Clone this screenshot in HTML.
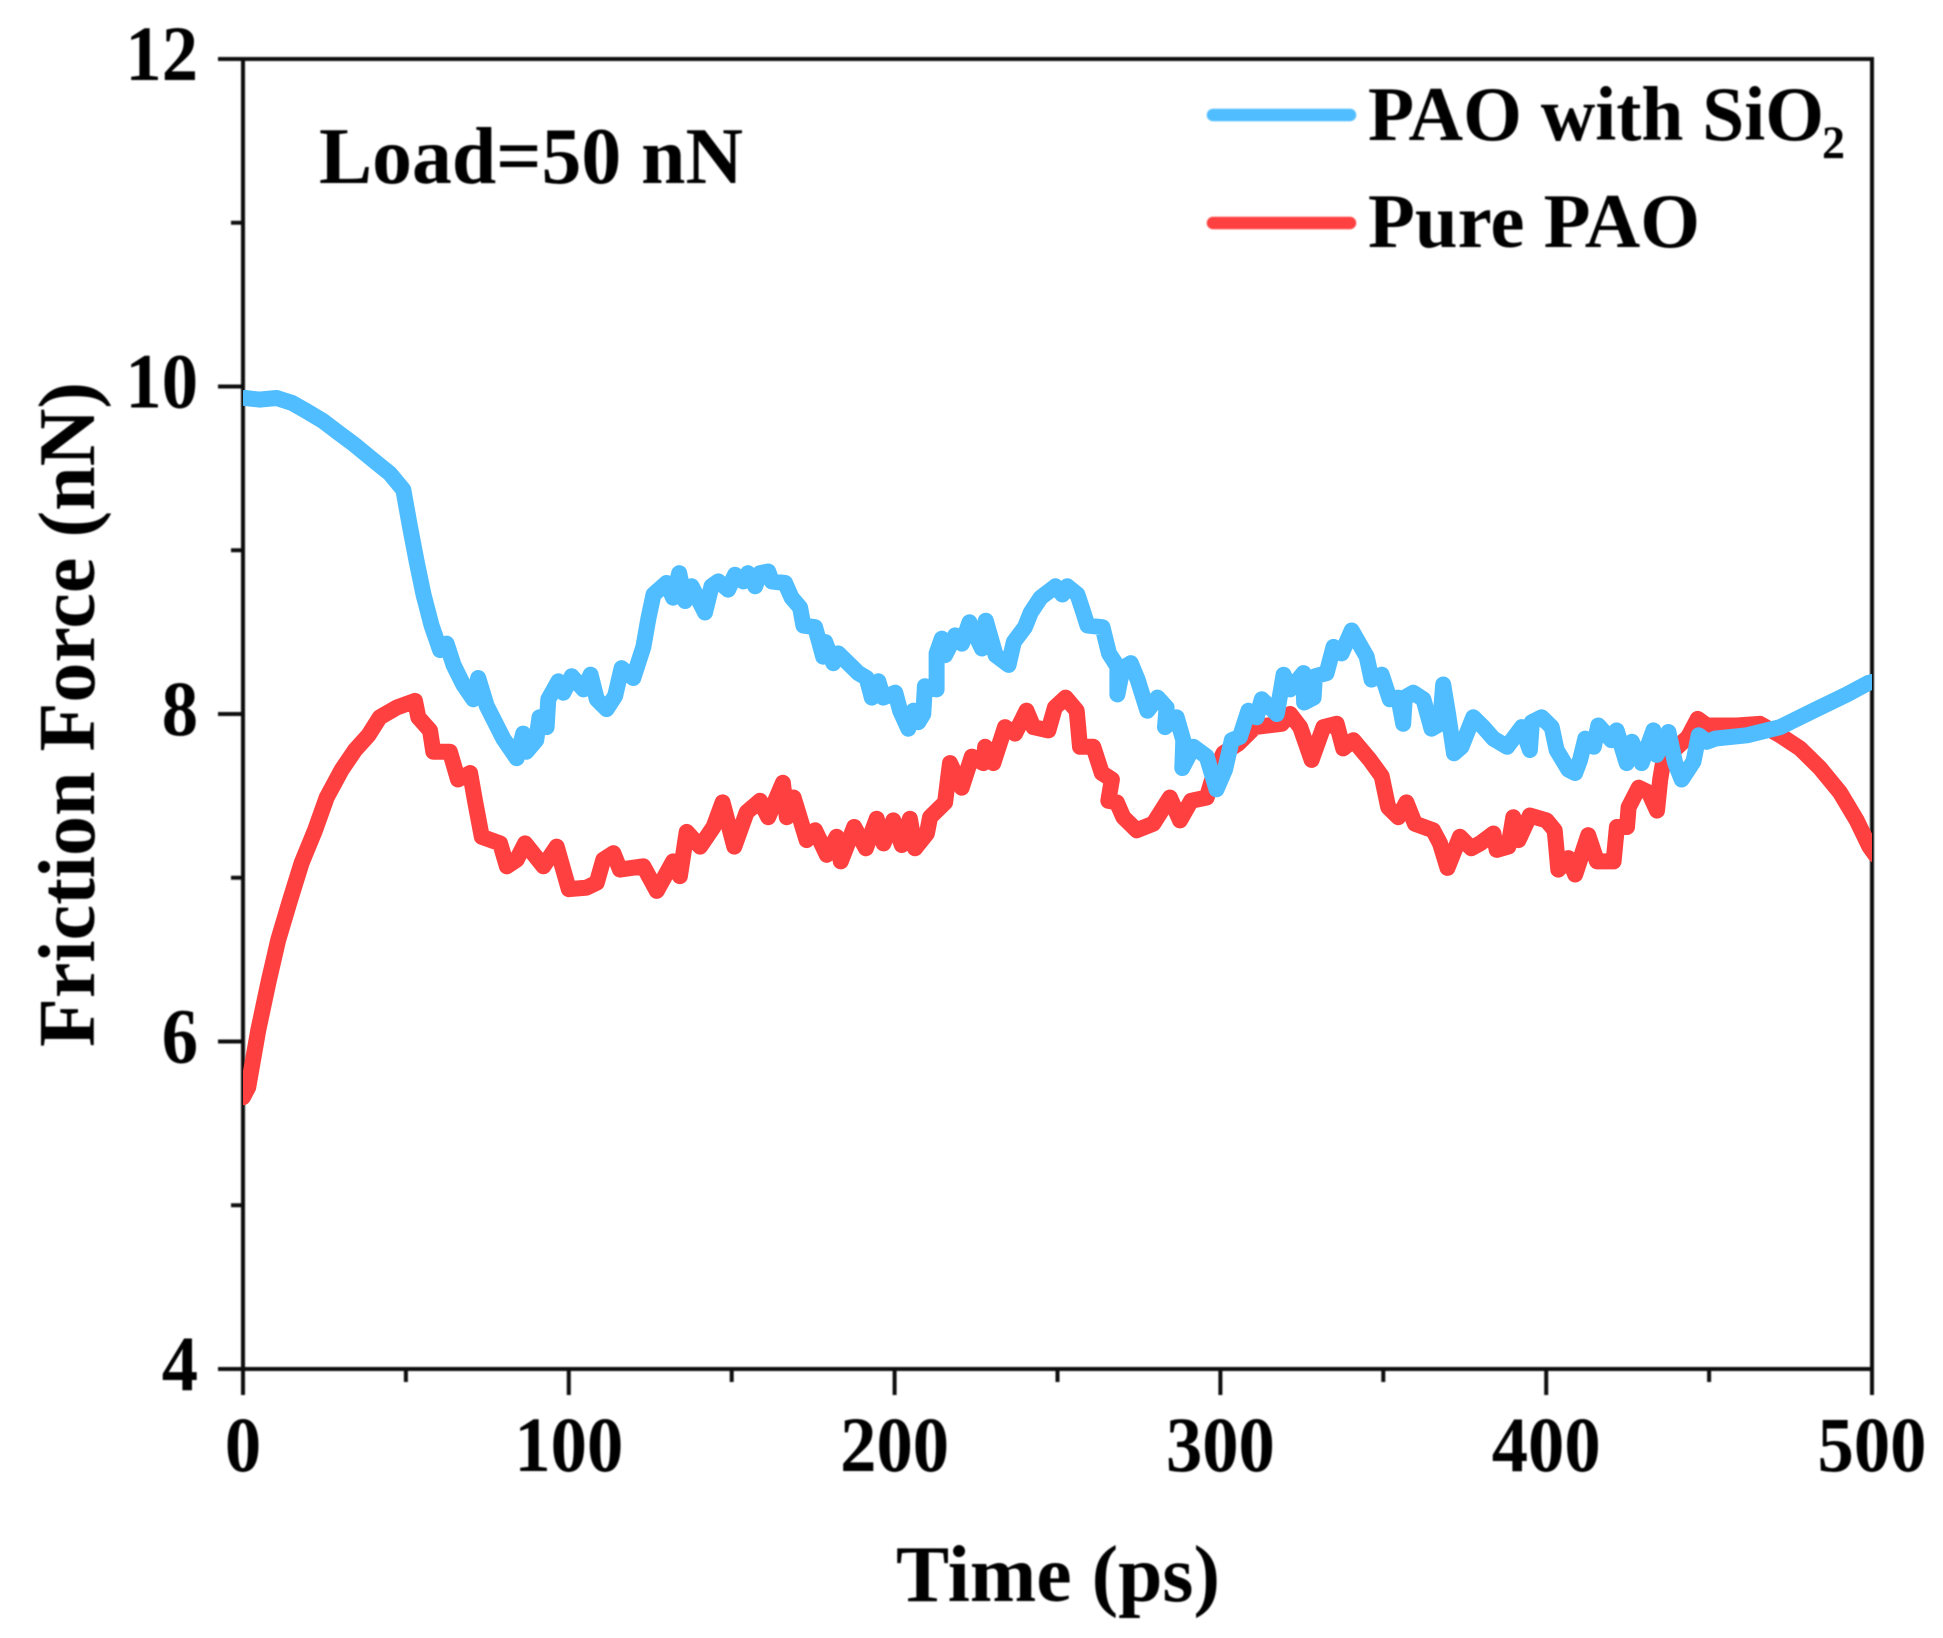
<!DOCTYPE html>
<html lang="en">
<head>
<meta charset="utf-8">
<title>Friction Force vs Time</title>
<style>
html,body{margin:0;padding:0;background:#fff;}
svg{display:block;}
text{font-family:"Liberation Serif",serif;font-weight:bold;fill:#000;}
</style>
</head>
<body>
<svg id="chart" xmlns="http://www.w3.org/2000/svg" width="1943" height="1638" viewBox="0 0 1943 1638">
  <defs>
    <clipPath id="plot-clip"><rect x="243" y="59" width="1629" height="1310"></rect></clipPath>
    <filter id="soft" x="-5%" y="-5%" width="110%" height="110%"><feGaussianBlur stdDeviation="0.8"></feGaussianBlur></filter>
  </defs>
  <rect x="0" y="0" width="1943" height="1638" fill="#fff"></rect>
  <g id="axes" filter="url(#soft)"></g>
  <g id="series" clip-path="url(#plot-clip)"></g>
  <g filter="url(#soft)">
    <text x="319" y="183" font-size="81" textLength="424" lengthAdjust="spacingAndGlyphs">Load=50 nN</text>
  </g>
  <g filter="url(#soft)">
    <line x1="1213" y1="115" x2="1350" y2="115" stroke="#4FBDFF" stroke-width="12.5" stroke-linecap="round"></line>
    <text x="1368" y="140" font-size="77" textLength="456" lengthAdjust="spacingAndGlyphs">PAO with SiO</text>
    <text x="1822" y="158" font-size="47" textLength="23" lengthAdjust="spacingAndGlyphs">2</text>
    <line x1="1213" y1="223" x2="1350" y2="223" stroke="#FF4040" stroke-width="12.5" stroke-linecap="round"></line>
    <text x="1368" y="247" font-size="77" textLength="332" lengthAdjust="spacingAndGlyphs">Pure PAO</text>
  </g>
  <g filter="url(#soft)">
    <text x="896" y="1601" font-size="80" textLength="324" lengthAdjust="spacingAndGlyphs">Time (ps)</text>
    <text transform="translate(94,1047) rotate(-90)" x="0" y="0" font-size="80" textLength="665" lengthAdjust="spacingAndGlyphs">Friction Force (nN)</text>
  </g>
</svg>
<script>
var xMajorTicks = [0, 100, 200, 300, 400, 500];
var xMinorTicks = [50, 150, 250, 350, 450];
var yMajorTicks = [4, 6, 8, 10, 12];
var yMinorTicks = [5, 7, 9, 11];

var blueTime = [0.6,5,10.3,15,19.5,24.5,29.8,33.9,40,45,49.2,51.3,53.3,55.4,57.9,60.5,62.5,64.6,67.6,70.7,72.2,74.8,79.9,84,86,87,90,91,93.2,93.7,96.8,98.3,100.9,104.5,106.7,108.6,111.6,114.2,116.2,119.8,122.9,124.4,126,130,132,133.9,135.7,137.7,141.8,143.8,145.9,148.9,151,153.6,155,157.2,158.7,161.2,162.3,166.4,168.4,171,172,175.6,178.1,178.7,181.2,182.7,185.8,188.9,191.4,193,195,196.5,200.2,201.7,204.2,205.8,207.3,208.8,209.3,212.9,212.9,214.5,215.5,218.6,220.7,223,226.8,228,231,235,236.6,240,241.8,244.8,249.4,251.5,253,256.1,257.6,259.2,263.8,265.8,268.4,268.4,270,272.5,274.6,277.6,280.7,283.5,283,286.6,288.6,288.3,291.7,295.8,298.8,301.4,303.5,306,308.6,311.1,312.7,317.3,319.4,321.4,325.5,325.7,328.6,329,332.6,334.7,337.2,340.3,344.9,346.4,349.5,352,354.6,356.1,356.6,359.2,362.3,364.8,367.4,368.4,369.9,371.7,374,377.6,380.7,383.8,388,392.5,395,395.6,398.6,401.7,403.2,406.8,408.9,410.4,412,414.6,416,420,421.6,424.7,426.3,429.3,432.9,433.9,437.5,439.6,441.6,445.2,446.8,449.3,451.9,461.6,471.8,482,492.3,498.9,501];
var blueForce = [9.93,9.92,9.93,9.90,9.85,9.79,9.71,9.65,9.55,9.47,9.37,9.14,8.93,8.73,8.54,8.39,8.43,8.30,8.18,8.09,8.22,8.05,7.85,7.73,7.88,7.77,7.84,7.98,7.92,8.09,8.20,8.13,8.23,8.15,8.24,8.09,8.03,8.11,8.28,8.22,8.41,8.58,8.73,8.80,8.71,8.86,8.69,8.78,8.62,8.78,8.81,8.76,8.85,8.81,8.86,8.78,8.86,8.87,8.81,8.80,8.71,8.65,8.54,8.53,8.35,8.44,8.31,8.37,8.31,8.25,8.22,8.10,8.20,8.10,8.13,8.02,7.91,8.02,7.95,8.00,8.17,8.15,8.37,8.46,8.36,8.48,8.43,8.56,8.40,8.57,8.36,8.30,8.44,8.53,8.62,8.71,8.78,8.73,8.78,8.73,8.64,8.54,8.53,8.37,8.29,8.12,8.28,8.31,8.21,8.02,8.10,8.04,7.92,7.98,7.84,7.67,7.80,7.74,7.54,7.66,7.84,7.86,8.02,7.98,8.09,8.00,8.24,8.15,8.25,8.07,8.10,8.23,8.25,8.41,8.37,8.51,8.35,8.21,8.24,8.09,8.10,7.94,8.10,8.13,8.09,7.91,7.94,8.18,8.00,7.76,7.80,7.98,7.92,7.85,7.80,7.92,7.78,7.95,7.98,7.92,7.78,7.66,7.64,7.72,7.85,7.80,7.93,7.84,7.90,7.70,7.83,7.70,7.90,7.75,7.89,7.70,7.60,7.71,7.87,7.83,7.85,7.87,7.92,8.02,8.12,8.19,8.20];

var redTime = [0,1.6,4.7,7.8,10.8,14.4,18,22.1,25.7,30.3,34.4,38.5,42,47.2,52.8,53.8,57.4,58.4,63.5,66,69.7,71.2,73.3,78.9,81,84,86.6,92.2,96.3,100,105.5,108.6,110.6,113.7,115.7,122.9,127,132,134.1,136.2,140.3,144.4,147.2,150.8,154.6,158.7,161.2,165.7,166.9,169,173,175.6,179.2,182.2,183.5,187.6,191.2,194.5,196.6,199.6,202.2,204.7,206.3,209.9,210.9,215.5,217,220.6,223.7,227.2,227.8,230.3,233.9,237,240.5,242.6,247.2,249.2,252.5,255.9,256.9,261,263.6,266.7,265.6,268.2,270.2,274.3,279.4,284.5,287.6,291,295.8,297.8,300.9,305.5,310.6,318.8,321.4,324.5,328,331.6,335.7,337.7,340.8,345.9,349.5,351.5,354.6,357.1,359.7,365.3,367.4,369.7,373.5,377,379.7,383.8,384.8,388.4,389.9,391.5,395,400.1,402.6,403.7,406.8,408.9,412.9,415.6,420.7,421.7,424.8,425.3,428.4,431.5,434,435,436,442,443.6,446.5,449.3,458.5,465.6,471.8,477.9,484,490.2,495.3,499.2,501];
var redForce = [5.66,5.72,6.07,6.36,6.62,6.86,7.09,7.29,7.49,7.66,7.78,7.87,7.98,8.04,8.08,7.98,7.90,7.77,7.77,7.60,7.64,7.47,7.25,7.21,7.07,7.11,7.21,7.07,7.19,6.93,6.94,6.97,7.11,7.15,7.05,7.07,6.92,7.10,7.01,7.28,7.19,7.31,7.46,7.19,7.40,7.47,7.37,7.58,7.37,7.49,7.23,7.29,7.14,7.25,7.10,7.31,7.18,7.36,7.21,7.35,7.20,7.36,7.18,7.27,7.37,7.46,7.70,7.55,7.74,7.70,7.80,7.70,7.92,7.88,8.02,7.92,7.90,8.04,8.10,8.02,7.80,7.80,7.64,7.60,7.47,7.46,7.37,7.29,7.33,7.49,7.35,7.47,7.49,7.62,7.76,7.82,7.92,7.94,8.00,7.92,7.72,7.92,7.94,7.79,7.84,7.72,7.62,7.43,7.37,7.46,7.33,7.29,7.21,7.06,7.25,7.18,7.21,7.27,7.17,7.19,7.37,7.23,7.38,7.35,7.29,7.05,7.12,7.02,7.26,7.10,7.10,7.31,7.31,7.43,7.55,7.52,7.41,7.60,7.72,7.83,7.86,7.97,7.93,7.93,7.94,7.87,7.79,7.67,7.52,7.35,7.19,7.14];

var svgNS = 'http://www.w3.org/2000/svg';
var axes = document.getElementById('axes');
var seriesGroup = document.getElementById('series');

var plotLeft = 243, plotRight = 1872, plotTop = 59, plotBottom = 1369;
var xMin = 0, xMax = 500, yMin = 4, yMax = 12;

function xScale(v) { return plotLeft + (v - xMin) / (xMax - xMin) * (plotRight - plotLeft); }
function yScale(v) { return plotBottom - (v - yMin) / (yMax - yMin) * (plotBottom - plotTop); }

function makeLine(x1, y1, x2, y2, w) {
  var l = document.createElementNS(svgNS, 'line');
  l.setAttribute('x1', x1);
  l.setAttribute('y1', y1);
  l.setAttribute('x2', x2);
  l.setAttribute('y2', y2);
  l.setAttribute('stroke', '#111');
  l.setAttribute('stroke-width', w);
  return l;
}

function makeLabel(str, x, y, anchor) {
  var t = document.createElementNS(svgNS, 'text');
  t.setAttribute('x', x);
  t.setAttribute('y', y);
  t.setAttribute('font-size', '78');
  t.setAttribute('text-anchor', anchor);
  t.setAttribute('textLength', str.length * 36.3);
  t.setAttribute('lengthAdjust', 'spacingAndGlyphs');
  t.textContent = str;
  return t;
}

var frame = document.createElementNS(svgNS, 'path');
frame.setAttribute('d', 'M' + plotLeft + ' ' + plotBottom + 'V' + plotTop + 'H' + plotRight + 'V' + plotBottom + 'Z');
frame.setAttribute('fill', 'none');
frame.setAttribute('stroke', '#111');
frame.setAttribute('stroke-width', '4');


axes.appendChild(frame);

xMajorTicks.forEach(function (v) {
  var tick = makeLine(xScale(v), plotBottom, xScale(v), plotBottom + 26, 4);
  
  
  axes.appendChild(tick);
  var label = makeLabel(String(v), xScale(v), 1471, 'middle');
  
  
  axes.appendChild(label);
});

xMinorTicks.forEach(function (v) {
  var tick = makeLine(xScale(v), plotBottom, xScale(v), plotBottom + 13, 4);
  
  
  axes.appendChild(tick);
});

yMajorTicks.forEach(function (v) {
  var tick = makeLine(plotLeft - 25, yScale(v), plotLeft, yScale(v), 4);
  
  
  axes.appendChild(tick);
  var label = makeLabel(String(v), 198, yScale(v) + 21, 'end');
  
  
  axes.appendChild(label);
});

yMinorTicks.forEach(function (v) {
  var tick = makeLine(plotLeft - 12, yScale(v), plotLeft, yScale(v), 4);
  
  
  axes.appendChild(tick);
});

function buildPath(times, values) {
  var d = '';
  for (var i = 0; i < times.length; i++) {
    d += (i === 0 ? 'M' : 'L') + xScale(times[i]).toFixed(1) + ' ' + yScale(values[i]).toFixed(1);
  }
  return d;
}

var redPath = document.createElementNS(svgNS, 'path');
redPath.setAttribute('d', buildPath(redTime, redForce));
redPath.setAttribute('fill', 'none');
redPath.setAttribute('stroke', '#FF4040');
redPath.setAttribute('stroke-width', '16');
redPath.setAttribute('stroke-linejoin', 'round');
redPath.setAttribute('stroke-linecap', 'round');


seriesGroup.appendChild(redPath);

var bluePath = document.createElementNS(svgNS, 'path');
bluePath.setAttribute('d', buildPath(blueTime, blueForce));
bluePath.setAttribute('fill', 'none');
bluePath.setAttribute('stroke', '#4FBDFF');
bluePath.setAttribute('stroke-width', '16');
bluePath.setAttribute('stroke-linejoin', 'round');
bluePath.setAttribute('stroke-linecap', 'round');


seriesGroup.appendChild(bluePath);
</script>
</body>
</html>
